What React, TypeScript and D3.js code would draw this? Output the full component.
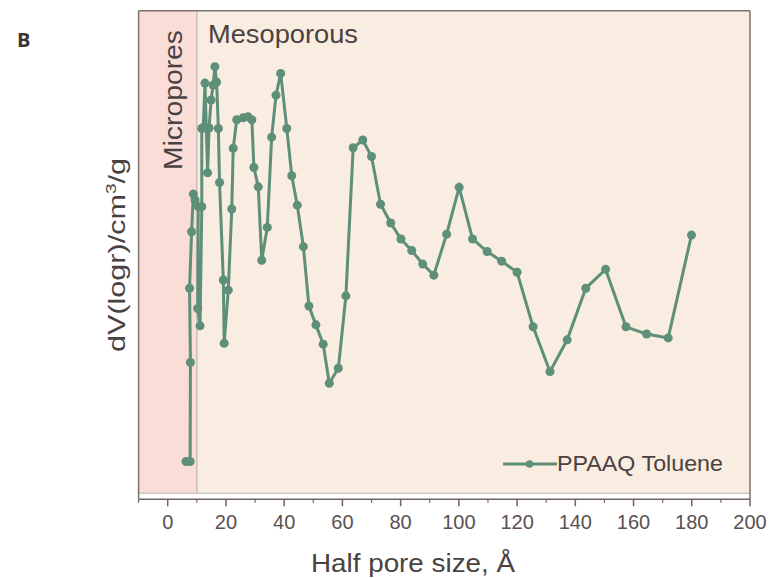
import React from 'react';
import * as d3 from 'd3';

// half pore size (Å)
const poreSize = [
  6.3, 7.7, 7.8, 7.5, 8.2, 8.8, 9.4, 10.5, 10.3, 11.1, 11.7, 11.7, 12.2, 12.8, 13.7, 14.2, 14.9, 15.6,
  16.2, 16.8, 17.4, 17.8, 19.1, 19.4, 20.8, 22.0, 22.5, 23.7, 25.9, 27.6, 28.9, 29.6, 31.1, 32.3,
  34.2, 35.7, 37.2, 38.8, 40.9, 42.6, 44.5, 46.6, 48.5, 50.9, 53.4, 55.5, 58.6, 61.2, 63.7, 67.0,
  70.0, 73.1, 76.6, 80.1, 83.8, 87.6, 91.4, 95.8, 100.1, 104.7, 109.7, 114.7, 120.0, 125.5, 131.3,
  137.2, 143.6, 150.4, 157.4, 164.5, 171.9, 179.9,
];
// dV(logr) in relative units (no y ticks in the figure)
const dv = [
  6.6, 6.6, 27.1, 42.5, 54.2, 62.0, 60.8, 59.4, 38.3, 34.7, 59.4, 75.6, 75.8, 85.0, 66.4, 75.7, 81.5,
  84.6, 88.4, 85.2, 75.6, 64.4, 44.2, 31.1, 42.1, 58.9, 71.5, 77.4, 77.8, 78.0, 77.4, 67.5, 63.5,
  48.3, 55.1, 73.8, 82.5, 87.0, 75.6, 65.8, 59.7, 51.1, 38.8, 34.9, 30.9, 22.8, 25.9, 40.9, 71.6,
  73.2, 69.8, 59.9, 56.0, 52.7, 50.3, 47.5, 45.2, 53.7, 63.4, 52.7, 50.1, 48.1, 45.8, 34.5, 25.2,
  31.8, 42.5, 46.4, 34.5, 33.0, 32.2, 53.5,
];
const xTicks = [0, 20, 40, 60, 80, 100, 120, 140, 160, 180, 200];
const xMinor = [-10, 10, 30, 50, 70, 90, 110, 130, 150, 170, 190];
const microLimit = 10;
const seriesName = 'PPAAQ Toluene';

const W = 769;
const H = 578;
const left = 138.6, right = 750, top = 10.7, bottom = 493.3, axisY = 499.3;
const green = '#5e8f78';
const ink = '#4a4242';
const font = 'Liberation Sans, Arial, sans-serif';

export default function App() {
  const x = d3.scaleLinear().domain([-10, 200]).range([left, right]);
  const y = d3.scaleLinear().domain([0, 100]).range([bottom, top]);
  const pts = poreSize.map((p, i) => [p, dv[i]] as [number, number]);
  const line = d3.line<[number, number]>().x(d => x(d[0])).y(d => y(d[1]));

  return (
    <svg width={W} height={H} style={{ position: 'absolute', left: 0, top: 0, background: '#fff' }}
      fontFamily={font}>
      <text x={17} y={47} fontSize={20} fontWeight="bold" fontFamily="Open Sans, DejaVu Sans, sans-serif" fill="#3a3535">B</text>

      {/* shaded regions */}
      <rect x={left} y={top} width={x(microLimit) - left} height={bottom - top} fill="#f9ddd6" />
      <rect x={x(microLimit)} y={top} width={right - x(microLimit)} height={bottom - top} fill="#f9ece0" />
      <line x1={x(microLimit)} x2={x(microLimit)} y1={top} y2={bottom} stroke="#cbbfba" strokeWidth={1.5} />
      <line x1={left} x2={right} y1={bottom} y2={bottom} stroke="#cfc7c3" strokeWidth={1.5} />
      <line x1={left} x2={right} y1={top} y2={top} stroke="#7d716d" strokeWidth={1.5} />
      <line x1={left} x2={left} y1={top} y2={axisY} stroke="#7d716d" strokeWidth={1.5} />
      <line x1={right} x2={right} y1={top} y2={axisY} stroke="#7d716d" strokeWidth={1.5} />

      {/* x axis */}
      <line x1={left} x2={right} y1={axisY} y2={axisY} stroke="#6f6460" strokeWidth={1.5} />
      {xTicks.map(t => (
        <g key={t}>
          <line x1={x(t)} x2={x(t)} y1={axisY} y2={axisY + 7} stroke="#6f6460" strokeWidth={1.5} />
          <text x={x(t)} y={529} fontSize={20} textAnchor="middle" fill="#5a5050">{t}</text>
        </g>
      ))}
      {xMinor.map(t => (
        <line key={t} x1={x(t)} x2={x(t)} y1={axisY} y2={axisY + 3.5} stroke="#6f6460" strokeWidth={1.2} />
      ))}
      <text x={311} y={572} fontSize={26.5} textLength={204} lengthAdjust="spacingAndGlyphs" fill={ink}>
        Half pore size, Å
      </text>
      <text transform="translate(125,352) rotate(-90)" fontSize={24} textLength={194}
        lengthAdjust="spacingAndGlyphs" fill={ink}>
        dV(logr)/cm<tspan dy={-9} fontSize={15}>3</tspan><tspan dy={9}>/g</tspan>
      </text>

      {/* region labels */}
      <text x={208} y={43} fontSize={25} textLength={150} lengthAdjust="spacingAndGlyphs" fill={ink}>Mesoporous</text>
      <text transform="translate(181.5,170) rotate(-90)" fontSize={25} textLength={140}
        lengthAdjust="spacingAndGlyphs" fill={ink}>Micropores</text>

      {/* series */}
      <path d={line(pts) ?? ''} fill="none" stroke={green} strokeWidth={3} />
      {pts.map((d, i) => (
        <circle key={i} cx={x(d[0])} cy={y(d[1])} r={4.5} fill={green} />
      ))}

      {/* legend */}
      <line x1={503} x2={557} y1={464} y2={464} stroke={green} strokeWidth={3} />
      <circle cx={529.5} cy={464} r={3.8} fill={green} />
      <text x={557} y={471} fontSize={21.5} textLength={166} lengthAdjust="spacingAndGlyphs" fill={ink}>{seriesName}</text>
    </svg>
  );
}
